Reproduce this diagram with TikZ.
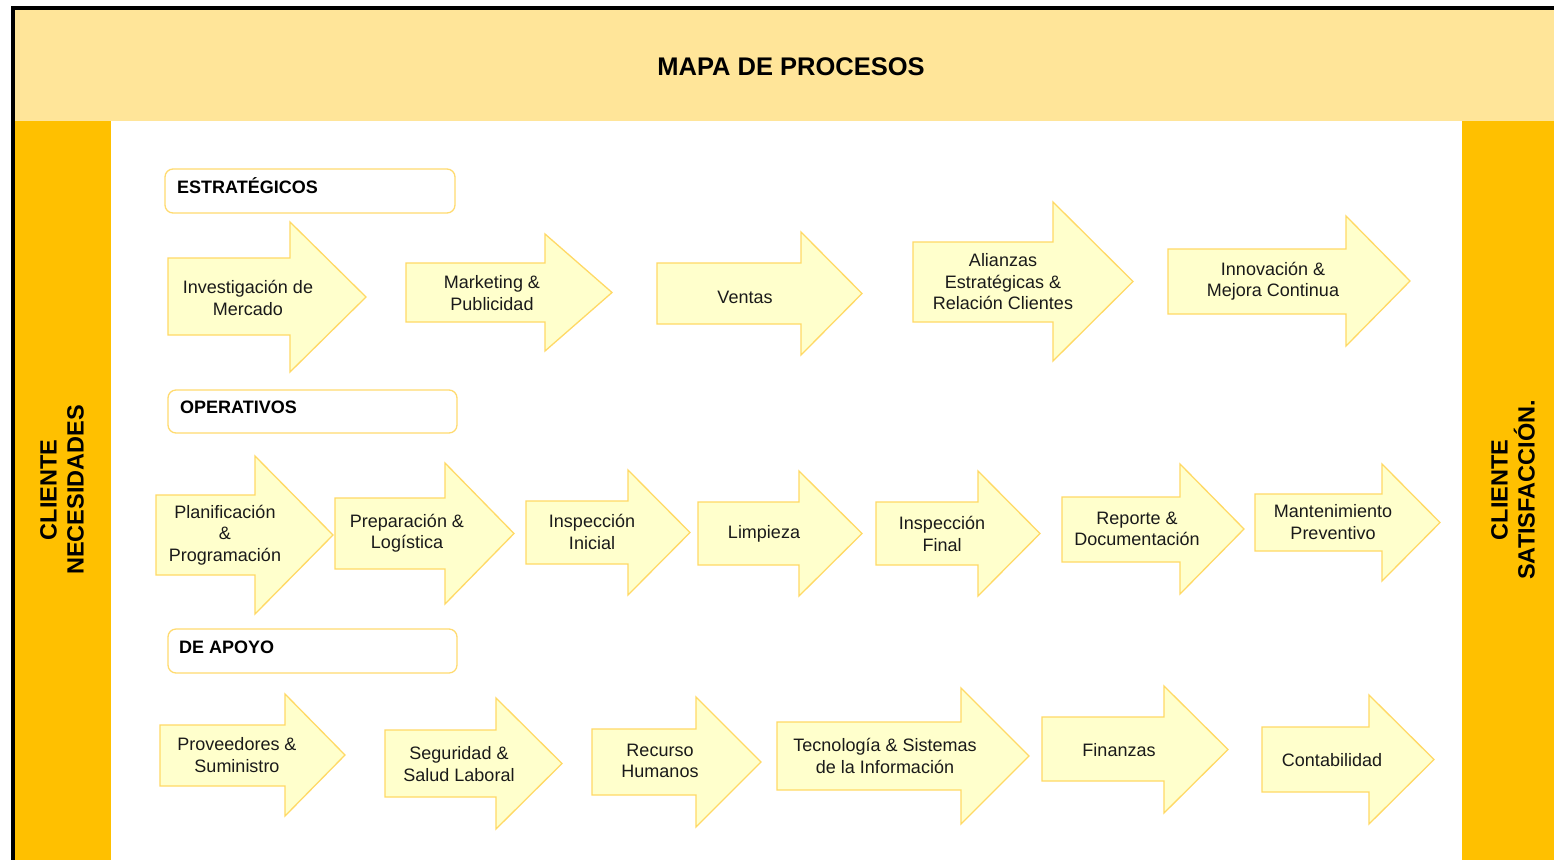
\documentclass[tikz,border=0pt]{standalone}
\usepackage{fontspec}
\setmainfont{Liberation Sans}
\definecolor{band}{HTML}{FFE599}
\definecolor{side}{HTML}{FFC000}
\definecolor{arrfill}{HTML}{FFFFCC}
\definecolor{arrline}{HTML}{FFD966}
\definecolor{catline}{HTML}{FFDB70}
\definecolor{txt}{HTML}{1A1A1A}
\tikzset{
  procarrow/.style={fill=arrfill, draw=arrline, line width=1.3pt, line join=miter},
  lbl/.style={font=\fontsize{18}{21.5}\selectfont, align=center, text=txt, inner sep=0pt},
  catbox/.style={draw=catline, line width=1.3pt, fill=white, rounded corners=8pt},
  cattext/.style={font=\fontsize{18}{21}\selectfont\bfseries, text=black, anchor=west, inner sep=0pt},
  sidetext/.style={font=\fontsize{23.5}{27}\selectfont\bfseries, align=center, rotate=90, inner sep=0pt},
}
\newcommand\procarrow[7]{%
  \draw[procarrow] (#1,#2) -- (#4,#2) -- (#4,#5) -- (#7,{(#5+#6)/2}) -- (#4,#6) -- (#4,#3) -- (#1,#3) -- cycle;}
\begin{document}
\begin{tikzpicture}[x=1pt,y=-1pt]
\fill[white] (0,0) rectangle (1554,860);
\useasboundingbox (0,0) rectangle (1554,860);
% frame
\fill[band] (15,10) rectangle (1554,121);
\fill[side] (15,121) rectangle (111,860);
\fill[side] (1462,121) rectangle (1554,860);
\fill[black] (11,6) rectangle (1554,10);
\fill[black] (11,6) rectangle (15,860);
\node[font=\fontsize{25.5}{30}\selectfont\bfseries, text=black] (title) at (791,67) {MAPA DE PROCESOS};
\node[sidetext] (left) at (62,490) {CLIENTE\\NECESIDADES};
\node[sidetext] (right) at (1513,490) {CLIENTE\\SATISFACCIÓN.};
% category boxes
\draw[catbox] (165,169) rectangle (455,213);
\node[cattext] (cat1) at (177,186) {ESTRATÉGICOS};
\draw[catbox] (168,390) rectangle (457,433);
\node[cattext] (cat2) at (180,407) {OPERATIVOS};
\draw[catbox] (168,629) rectangle (457,673);
\node[cattext] (cat3) at (179,647) {DE APOYO};
% row 1
\procarrow{168}{258}{335}{290}{222}{372}{366}
\node[lbl] (e1) at (248,298) {Investigación de\\Mercado};
\procarrow{406}{263}{322}{545}{234}{351}{612}
\node[lbl] (e2) at (492,293) {Marketing \&\\Publicidad};
\procarrow{657}{263}{324}{801}{232}{355}{862}
\node[lbl] (e3) at (745,297) {Ventas};
\procarrow{913}{242}{322}{1053}{202}{361}{1133}
\node[lbl] (e4) at (1003,282) {Alianzas\\Estratégicas \&\\Relación Clientes};
\procarrow{1168}{249}{314}{1346}{216}{346}{1410}
\node[lbl] (e5) at (1273,281) {Innovación \&\\Mejora Continua};
% row 2
\procarrow{156}{495}{575}{255}{456}{614}{333}
\node[lbl] (o1) at (225,535) {Planificación\\\&\\Programación};
\procarrow{335}{498}{569}{445}{463}{604}{514}
\node[lbl] (o2) at (407,533) {Preparación \&\\Logística};
\procarrow{526}{501}{564}{628}{470}{595}{690}
\node[lbl] (o3) at (592,532) {Inspección\\Inicial};
\procarrow{698}{502}{565}{799}{471}{596}{862}
\node[lbl] (o4) at (764,534) {Limpieza};
\procarrow{876}{502}{565}{978}{471}{596}{1040}
\node[lbl] (o5) at (942,534) {Inspección\\Final};
\procarrow{1062}{497}{562}{1180}{464}{594}{1244}
\node[lbl] (o6) at (1137,529) {Reporte \&\\Documentación};
\procarrow{1255}{494}{551}{1382}{464}{581}{1440}
\node[lbl] (o7) at (1333,522) {Mantenimiento\\Preventivo};
% row 3
\procarrow{160}{725}{786}{285}{694}{816}{345}
\node[lbl] (a1) at (237,755) {Proveedores \&\\Suministro};
\procarrow{385}{730}{797}{496}{698}{829}{562}
\node[lbl] (a2) at (459,764) {Seguridad \&\\Salud Laboral};
\procarrow{592}{729}{795}{696}{697}{827}{761}
\node[lbl] (a3) at (660,761) {Recurso\\Humanos};
\procarrow{777}{722}{790}{961}{688}{824}{1029}
\node[lbl] (a4) at (885,756) {Tecnología \& Sistemas\\de la Información};
\procarrow{1042}{717}{781}{1164}{686}{813}{1228}
\node[lbl] (a5) at (1119,750) {Finanzas};
\procarrow{1262}{727}{792}{1369}{695}{824}{1434}
\node[lbl] (a6) at (1332,760) {Contabilidad};
\end{tikzpicture}
\end{document}
